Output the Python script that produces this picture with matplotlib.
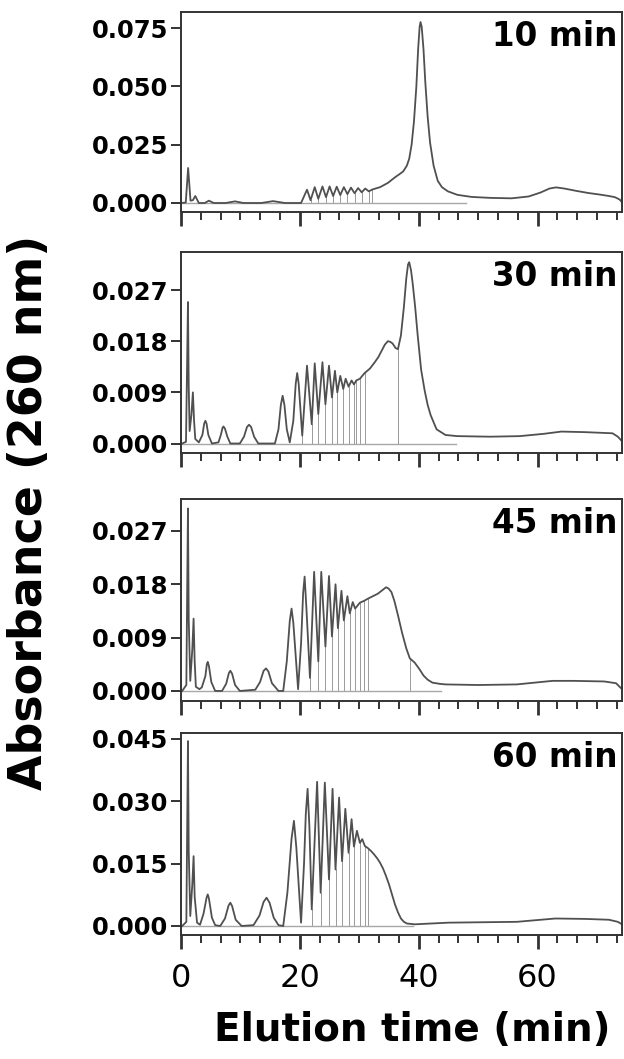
import matplotlib.pyplot as plt
import numpy as np
from matplotlib.ticker import FormatStrFormatter, MultipleLocator

# panel labels (sampling time)
labels = ["10 min", "30 min", "45 min", "60 min"]

# 10 min trace
t10 = [0, 0.8, 1.2, 1.6, 2.0, 2.4, 3.0, 4.0, 4.7, 5.5, 7.5, 9.1, 10.5, 13.5, 15.5, 17.5, 20.2,
       21.2, 21.8, 22.5, 23.1, 23.8, 24.4, 25.0, 25.6, 26.2, 26.8, 27.4, 28.0, 28.6, 29.2,
       29.8, 30.4, 31.0, 31.6, 32.2, 33.5, 34.8, 36.0, 37.0, 37.4, 38.0, 38.4, 38.8, 39.2,
       39.6, 39.9, 40.15, 40.3, 40.5, 40.8, 41.1, 41.5, 41.9, 42.5, 43.2, 43.9, 44.9, 46.5,
       48.9, 52.0, 55.6, 58.5, 60.5, 62.0, 63.1, 64.5, 66.5, 68.5, 70.5, 72.0, 73.0, 73.8, 74.2]
a10 = [0, 0.0002, 0.015, 0.001, 0.0012, 0.003, 0.0, 0.0, 0.001, 0.0, 0.0, 0.0007, 0.0, 0.0,
       0.0008, 0.0, 0.0, 0.0057, 0.0012, 0.0068, 0.0018, 0.0071, 0.0025, 0.0071, 0.003,
       0.0070, 0.0034, 0.0068, 0.0038, 0.0066, 0.0042, 0.0064, 0.0046, 0.0062, 0.005, 0.0058,
       0.0068, 0.0086, 0.011, 0.0128, 0.0136, 0.016, 0.019, 0.025, 0.035, 0.050, 0.066,
       0.0755, 0.0776, 0.0755, 0.066, 0.052, 0.037, 0.026, 0.016, 0.0095, 0.0068, 0.005,
       0.0035, 0.0026, 0.0022, 0.0020, 0.0028, 0.0045, 0.0062, 0.0067, 0.0062, 0.0052,
       0.0043, 0.0036, 0.0030, 0.0025, 0.0015, 0.0003]
drops10 = [21.8, 23.1, 24.4, 25.6, 26.8, 28.0, 29.2, 30.4, 31.6, 32.2]

# 30 min trace
t30 = [0.2, 0.84, 1.0, 1.17, 1.3, 1.45, 1.75, 2.0, 2.2, 2.4, 3.0, 3.6, 3.9, 4.1, 4.3, 4.6,
       5.2, 6.3, 6.7, 7.0, 7.15, 7.4, 7.8, 8.3, 9.9, 10.6, 11.1, 11.45, 11.8, 12.3, 13.0,
       15.8, 16.4, 16.8, 17.1, 17.4, 17.8, 18.3, 18.9, 19.3, 19.55, 19.8, 20.4, 21.2, 22.0,
       22.5, 23.1, 23.8, 24.3, 24.9, 25.4, 25.9, 26.3, 26.8, 27.3, 27.7, 28.2, 28.7, 29.1,
       29.5, 30.1, 30.9, 31.8, 32.6, 33.2, 33.7, 34.3, 34.8, 35.2, 35.6, 36.1, 36.5, 37.0,
       37.5, 37.9, 38.2, 38.4, 38.7, 39.0, 39.4, 39.8, 40.4, 41.0, 41.5, 42.0, 43.0, 44.5,
       46.5, 52.0, 57.0, 61.0, 64.0, 68.0, 72.6, 73.5, 74.2]
a30 = [0, 0.0003, 0.012, 0.0249, 0.010, 0.0022, 0.005, 0.009, 0.004, 0.0008, 0.0002,
       0.0015, 0.0035, 0.004, 0.0035, 0.0015, 0.0, 0.0002, 0.0015, 0.0028, 0.003, 0.0026,
       0.0012, 0.0, 0.0, 0.0012, 0.0029, 0.0033, 0.0029, 0.0012, 0.0, 0.0, 0.0025, 0.0068,
       0.0084, 0.0068, 0.0025, 0.0002, 0.004, 0.0105, 0.0124, 0.0105, 0.0014, 0.0137,
       0.0034, 0.0141, 0.0052, 0.0143, 0.0069, 0.0137, 0.0081, 0.0128, 0.009, 0.0119, 0.0096,
       0.0114, 0.010, 0.0111, 0.0104, 0.0111, 0.0114, 0.0124, 0.0132, 0.0143, 0.0152, 0.0162,
       0.0174, 0.018, 0.0179, 0.0176, 0.0168, 0.0166, 0.019, 0.024, 0.029, 0.0315, 0.0319,
       0.0305, 0.028, 0.024, 0.0193, 0.013, 0.0093, 0.0068, 0.005, 0.0025, 0.0015, 0.0013,
       0.0012, 0.0013, 0.0017, 0.0021, 0.0020, 0.0018, 0.0012, 0.0004]
drops30 = [20.4, 22.0, 23.1, 24.3, 25.4, 26.3, 27.3, 28.2, 29.1, 29.5, 30.1, 30.9, 36.5]

# 45 min trace
t45 = [0.2, 0.9, 1.05, 1.17, 1.3, 1.56, 1.9, 2.12, 2.3, 2.5, 3.1, 3.5, 4.1, 4.35, 4.5, 4.7,
       5.1, 5.75, 6.9, 7.6, 8.05, 8.3, 8.6, 9.1, 9.9, 12.5, 13.3, 13.9, 14.3, 14.7, 15.3,
       16.4, 17.2, 17.8, 18.3, 18.6, 18.9, 19.7, 20.2, 20.55, 20.8, 21.1, 21.7, 22.4, 23.1,
       23.6, 24.3, 24.9, 25.4, 26.0, 26.4, 27.0, 27.4, 28.0, 28.4, 28.9, 29.3, 30.1, 30.8,
       31.5, 33.1, 34.0, 34.5, 34.9, 35.4, 35.9, 36.5, 37.2, 37.9, 38.5, 39.3, 40.1, 40.8,
       41.5, 42.3, 43.5, 44.5, 50.0, 56.5, 62.5, 66.0, 71.2, 73.2, 74.2]
a45 = [0, 0.001, 0.018, 0.0308, 0.012, 0.0017, 0.007, 0.0122, 0.005, 0.0007, 0.0003,
       0.0006, 0.0025, 0.0045, 0.0049, 0.0042, 0.0015, 0.0, 0.0, 0.0012, 0.003, 0.0034,
       0.0029, 0.001, 0.0, 0.0002, 0.0015, 0.0034, 0.0038, 0.0033, 0.0013, 0.0, 0.0, 0.005,
       0.0118, 0.0139, 0.0115, 0.0003, 0.008, 0.0165, 0.0193, 0.014, 0.0022, 0.0201, 0.005,
       0.0201, 0.0075, 0.0194, 0.0092, 0.018, 0.0106, 0.0169, 0.0119, 0.016, 0.0131, 0.015,
       0.0139, 0.0149, 0.0152, 0.0156, 0.0164, 0.0171, 0.0175, 0.0173, 0.0167, 0.0152,
       0.0128, 0.0098, 0.0072, 0.0055, 0.0048, 0.0037, 0.0026, 0.0019, 0.0014, 0.0012,
       0.0011, 0.0010, 0.0011, 0.0017, 0.0017, 0.0016, 0.0013, 0.0003]
drops45 = [21.7, 23.1, 24.3, 25.4, 26.4, 27.4, 28.4, 29.3, 30.1, 30.8, 31.5, 38.5]

# 60 min trace
t60 = [0.2, 0.9, 1.05, 1.17, 1.3, 1.56, 1.9, 2.12, 2.3, 2.7, 3.2, 3.8, 4.3, 4.5, 4.7, 5.2,
       5.75, 6.6, 7.4, 8.0, 8.3, 8.6, 9.2, 10.2, 12.2, 13.2, 13.9, 14.4, 14.9, 15.6, 16.4,
       17.2, 17.9, 18.6, 19.0, 19.4, 20.2, 20.7, 21.0, 21.3, 21.6, 22.0, 22.9, 23.5, 24.2,
       24.9, 25.5, 26.0, 26.6, 27.1, 27.65, 28.2, 28.7, 29.1, 29.6, 30.1, 30.5, 30.95, 31.4,
       32.0, 32.5, 33.0, 33.5, 34.0, 34.5, 35.0, 35.5, 36.0, 36.5, 37.0, 37.5, 38.0, 39.3,
       45.0, 56.5, 63.0, 68.0, 72.0, 73.5, 74.2]
a60 = [0, 0.001, 0.025, 0.0445, 0.018, 0.0024, 0.010, 0.0168, 0.007, 0.0008, 0.0003,
       0.003, 0.0068, 0.0076, 0.0066, 0.002, 0.0002, 0.0, 0.0018, 0.0049, 0.0056, 0.0048,
       0.0015, 0.0, 0.0002, 0.0025, 0.0058, 0.0068, 0.0056, 0.002, 0.0002, 0.0, 0.008,
       0.021, 0.0253, 0.019, 0.0008, 0.015, 0.027, 0.033, 0.024, 0.004, 0.0347, 0.008,
       0.0345, 0.0112, 0.033, 0.0136, 0.0309, 0.0156, 0.0282, 0.0176, 0.0257, 0.0191, 0.0229,
       0.020, 0.0209, 0.0192, 0.0188, 0.0180, 0.0172, 0.0163, 0.0152, 0.0138, 0.0120,
       0.0100, 0.0076, 0.0052, 0.0033, 0.0018, 0.0010, 0.0006, 0.0004, 0.0008, 0.0010,
       0.0018, 0.0017, 0.0015, 0.0010, 0.0004]
drops60 = [22.0, 23.5, 24.9, 26.0, 27.1, 28.2, 29.1, 30.1, 30.95, 31.4]

traces = [(t10, a10), (t30, a30), (t45, a45), (t60, a60)]
drops = [drops10, drops30, drops45, drops60]
baseline_end = [48.0, 46.2, 43.8, 39.0]
yticks = [[0, 0.025, 0.05, 0.075], [0, 0.009, 0.018, 0.027],
          [0, 0.009, 0.018, 0.027], [0, 0.015, 0.030, 0.045]]
ylims = [(-0.00386, 0.0819), (-0.00167, 0.0337), (-0.0017, 0.0324), (-0.00217, 0.04644)]

# axes boxes in pixels (top, bottom)
W, H = 624, 1059
boxes = [(12, 212), (252, 453), (499, 701), (733, 935)]
left_px, right_px = 181, 622

plt.rcParams["font.family"] = ["DejaVu Sans"]
fig = plt.figure(figsize=(W / 100, H / 100), dpi=100)

for i, (top, bot) in enumerate(boxes):
    ax = fig.add_axes([left_px / W, 1 - bot / H, (right_px - left_px) / W, (bot - top) / H])
    t = np.asarray(traces[i][0])
    a = np.asarray(traces[i][1])

    # integration drop lines and baseline
    for d in drops[i]:
        ax.plot([d, d], [0, np.interp(d, t, a)], color="#9a9a9a", lw=0.7, zorder=1)
    ax.plot([0, baseline_end[i]], [0, 0], color="#a8a8a8", lw=1.0, zorder=1)

    ax.plot(t, a, color="#505050", lw=1.3, zorder=2)

    ax.set_xlim(0, 74.2)
    ax.set_ylim(*ylims[i])
    ax.set_yticks(yticks[i])
    ax.yaxis.set_major_formatter(FormatStrFormatter("%.3f"))
    ax.xaxis.set_major_locator(MultipleLocator(20))
    ax.xaxis.set_minor_locator(MultipleLocator(20 / 6))

    for s in ax.spines.values():
        s.set_linewidth(1.4)
        s.set_color("#333333")

    ax.tick_params(axis="y", which="major", length=7, width=1.4, pad=2,
                   labelsize=17.5, color="#333333")
    ax.tick_params(axis="x", which="major", length=10, width=2.0, pad=10,
                   labelsize=23, color="#333333")
    ax.tick_params(axis="x", which="minor", length=5.5, width=1.4, color="#333333")
    for lab in ax.get_yticklabels():
        lab.set_fontweight("bold")
    if i < 3:
        ax.tick_params(axis="x", labelbottom=False)

    ax.text(0.99, 0.88, labels[i], transform=ax.transAxes, ha="right", va="center",
            fontsize=23.5, fontweight="bold")

fig.text(30 / W, 1 - 512 / H, "Absorbance (260 nm)", rotation=90, ha="center",
         va="center", fontsize=33, fontweight="bold")
fig.text(412 / W, 1 - 1030 / H, "Elution time (min)", ha="center", va="center",
         fontsize=28, fontweight="bold")

fig.savefig("out.png", dpi=100)
